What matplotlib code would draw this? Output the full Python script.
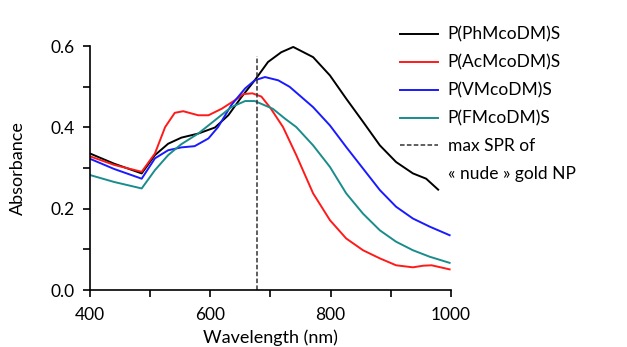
import matplotlib.pyplot as plt
from matplotlib.lines import Line2D

plt.rcParams['font.family'] = ['Lato', 'DejaVu Sans']

wl_ph = [400, 440, 486, 508, 530, 552, 580, 608, 630, 652, 674, 696, 718, 738, 771, 799, 826, 854, 882, 909, 937, 959, 979]
abs_ph = [0.336, 0.311, 0.287, 0.332, 0.36, 0.375, 0.385, 0.4, 0.43, 0.475, 0.516, 0.561, 0.585, 0.598, 0.573, 0.528, 0.471, 0.414, 0.356, 0.315, 0.287, 0.274, 0.247]

wl_ac = [400, 440, 486, 508, 525, 541, 555, 580, 597, 619, 641, 655, 670, 685, 700, 721, 743, 771, 799, 826, 854, 882, 909, 937, 954, 968, 998]
abs_ac = [0.329, 0.308, 0.291, 0.336, 0.401, 0.436, 0.44, 0.43, 0.43, 0.446, 0.467, 0.482, 0.484, 0.476, 0.448, 0.401, 0.332, 0.238, 0.172, 0.127, 0.098, 0.078, 0.061, 0.056, 0.06, 0.061, 0.051]

wl_v = [400, 440, 486, 508, 530, 552, 574, 597, 613, 635, 658, 674, 691, 713, 732, 771, 799, 826, 854, 882, 909, 937, 965, 998]
abs_v = [0.323, 0.298, 0.274, 0.324, 0.344, 0.351, 0.354, 0.373, 0.401, 0.455, 0.496, 0.516, 0.524, 0.516, 0.5, 0.45, 0.405, 0.352, 0.299, 0.246, 0.205, 0.176, 0.156, 0.135]

wl_f = [400, 440, 486, 508, 530, 552, 580, 608, 635, 658, 674, 704, 724, 743, 771, 799, 826, 854, 882, 909, 937, 965, 998]
abs_f = [0.283, 0.266, 0.25, 0.295, 0.332, 0.359, 0.385, 0.418, 0.45, 0.465, 0.465, 0.446, 0.422, 0.401, 0.356, 0.303, 0.238, 0.188, 0.147, 0.119, 0.098, 0.082, 0.067]

spr_nude = 677
spr_top = 0.577

labels = ["P(PhMcoDM)S", "P(AcMcoDM)S", "P(VMcoDM)S", "P(FMcoDM)S"]
colors = ["black", "#ff1a1a", "#1a1aff", "#1a8c8c"]

fig = plt.figure(figsize=(6.27, 3.47), dpi=100)
ax = fig.add_axes([0.1435, 0.164, 0.5755, 0.703])

for x, y, lab, c in zip([wl_ph, wl_ac, wl_v, wl_f], [abs_ph, abs_ac, abs_v, abs_f], labels, colors):
    ax.plot(x, y, color=c, lw=1.4, label=lab)
ax.plot([spr_nude, spr_nude], [0, spr_top], color="#333333", lw=1.1, ls=(0, (3, 1.5)),
        label="max SPR of")

ax.set_xlim(400, 1000)
ax.set_ylim(0, 0.6)
ax.set_xticks([400, 600, 800, 1000])
ax.set_xticks([500, 700, 900], minor=True)
ax.set_yticks([0.0, 0.2, 0.4, 0.6])
ax.set_yticks([0.1, 0.3, 0.5], minor=True)
ax.yaxis.set_major_formatter(plt.FormatStrFormatter('%.1f'))
ax.spines['top'].set_visible(False)
ax.spines['right'].set_visible(False)
for s in ['left', 'bottom']:
    ax.spines[s].set_linewidth(1.2)
ax.tick_params(which='both', direction='out', width=1.2, length=5, labelsize=12.5)
ax.tick_params(axis='x', pad=7)
ax.tick_params(axis='y', pad=6)
ax.set_xlabel("Wavelength (nm)", fontsize=13, labelpad=5)
ax.set_ylabel("Absorbance", fontsize=13, labelpad=18)

handles, labs = ax.get_legend_handles_labels()
handles.append(Line2D([], [], color='none'))
labs.append("« nude » gold NP")
fig.legend(handles, labs, loc='upper left', bbox_to_anchor=(0.627, 0.943), frameon=False,
           fontsize=12.5, handlelength=2.2, handletextpad=0.55, labelspacing=0.68,
           borderaxespad=0)

fig.savefig("out.png", dpi=100)
